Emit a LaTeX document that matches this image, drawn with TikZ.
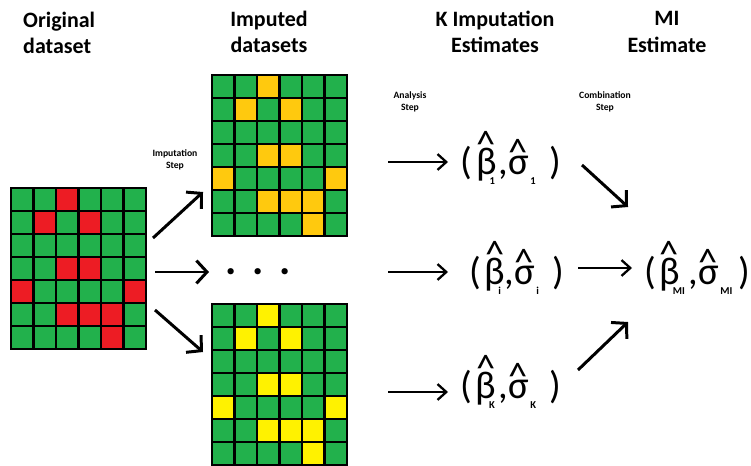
\documentclass[tikz,border=0pt]{standalone}
\usepackage{fontspec}
\setmainfont{Carlito}
\usetikzlibrary{arrows.meta}
\definecolor{cellgreen}{RGB}{34,177,76}
\definecolor{cellred}{RGB}{237,28,36}
\definecolor{cellorange}{RGB}{255,201,14}
\definecolor{cellyellow}{RGB}{255,242,0}
\newcommand{\esthat}[1]{\shortstack{\makebox[0pt]{\textasciicircum}\\[-0.38em]#1}}
\newcommand{\estsub}[1]{\raisebox{-6pt}{\fontsize{6}{6}\selectfont\bfseries #1}}
\newcommand{\estimate}[2][0.35em]{(\hspace{2pt}\esthat{β}\hspace{-4pt}\estsub{#2}\hspace{2pt},\esthat{σ}\hspace{1pt}\estsub{#2}\hspace{#1})}
\begin{document}
\begin{tikzpicture}[x=0.02cm,y=-0.02cm]
   \tikzset{
     cell/.style={draw=black, line width=1.6pt},
     imparrow/.style={-{Straight Barb[length=6pt,width=13pt]}, line width=1.7pt},
     estarrow/.style={-{Straight Barb[length=5pt,width=9pt]}, line width=1.3pt},
     heading/.style={font=\fontsize{12.5}{15}\selectfont\bfseries, align=center},
     steplabel/.style={font=\fontsize{5.5}{6.5}\selectfont\bfseries, align=center},
     estnode/.style={font=\fontsize{22}{24}\selectfont, inner sep=0pt}
   }
   \useasboundingbox (0,0) rectangle (751,466);
   % grids: original, imputed (top), imputed (bottom); 1 = missing cell
   \foreach \gx/\gy/\gcol in {11/188/cellred, 212/75/cellorange, 212/304/cellyellow}{
     \foreach \cells [count=\r from 0] in {{0,0,1,0,0,0},{0,1,0,1,0,0},{0,0,0,0,0,0},{0,0,1,1,0,0},{1,0,0,0,0,1},{0,0,1,1,1,0},{0,0,0,0,1,0}}{
       \foreach \v [count=\c from 0] in \cells{
         \ifnum\v=1 \def\fillcol{\gcol}\else\def\fillcol{cellgreen}\fi
         \filldraw[cell, fill=\fillcol] (\gx+\c*22.5, \gy+\r*23) rectangle ++(22.5,23);
       }
     }
   }
   \node[heading, align=left, anchor=west] (orighead) at (17,33) {Original\\dataset};
   \node[heading] (imphead) at (269,32) {Imputed\\datasets};
   \node[heading] (khead) at (495,32) {K Imputation\\Estimates};
   \node[heading] (mihead) at (667,32) {MI\\Estimate};
   \node[steplabel] (impstep) at (175,160) {Imputation\\Step};
   \node[steplabel] (anastep) at (410,102) {Analysis\\Step};
   \node[steplabel] (combstep) at (605,102) {Combination\\Step};
   \node[font=\fontsize{24}{24}\selectfont\bfseries] (dots) at (258,272) {.\hspace{9pt}.\hspace{9pt}.};
   \node[estnode] (est1) at (511,158) {\estimate{1}};
   \node[estnode] (esti) at (517,268) {\estimate{i}};
   \node[estnode] (estk) at (511,382) {\estimate{K}};
   \node[estnode] (estmi) at (697,268) {\estimate[0.15em]{MI}};
   % arrow ends
   \coordinate (upstart) at (153,238);   \coordinate (upend) at (203,192);
   \coordinate (midstart) at (155,272);  \coordinate (midend) at (209,272);
   \coordinate (downstart) at (155,310); \coordinate (downend) at (203,352);
   \coordinate (an1) at (388,162);  \coordinate (an1e) at (448,162);
   \coordinate (ani) at (388,272);  \coordinate (anie) at (448,272);
   \coordinate (ank) at (388,392);  \coordinate (anke) at (448,392);
   \coordinate (co1) at (582,165);  \coordinate (co1e) at (628,207);
   \coordinate (coi) at (578,268);  \coordinate (coie) at (632,268);
   \coordinate (cok) at (578,370);  \coordinate (coke) at (628,322);
   \draw[imparrow] (upstart) -- (upend);
   \draw[imparrow] (midstart) -- (midend);
   \draw[imparrow] (downstart) -- (downend);
   \draw[estarrow] (an1) -- (an1e);
   \draw[estarrow] (ani) -- (anie);
   \draw[estarrow] (ank) -- (anke);
   \draw[imparrow] (co1) -- (co1e);
   \draw[estarrow] (coi) -- (coie);
   \draw[imparrow] (cok) -- (coke);
\end{tikzpicture}
\end{document}
